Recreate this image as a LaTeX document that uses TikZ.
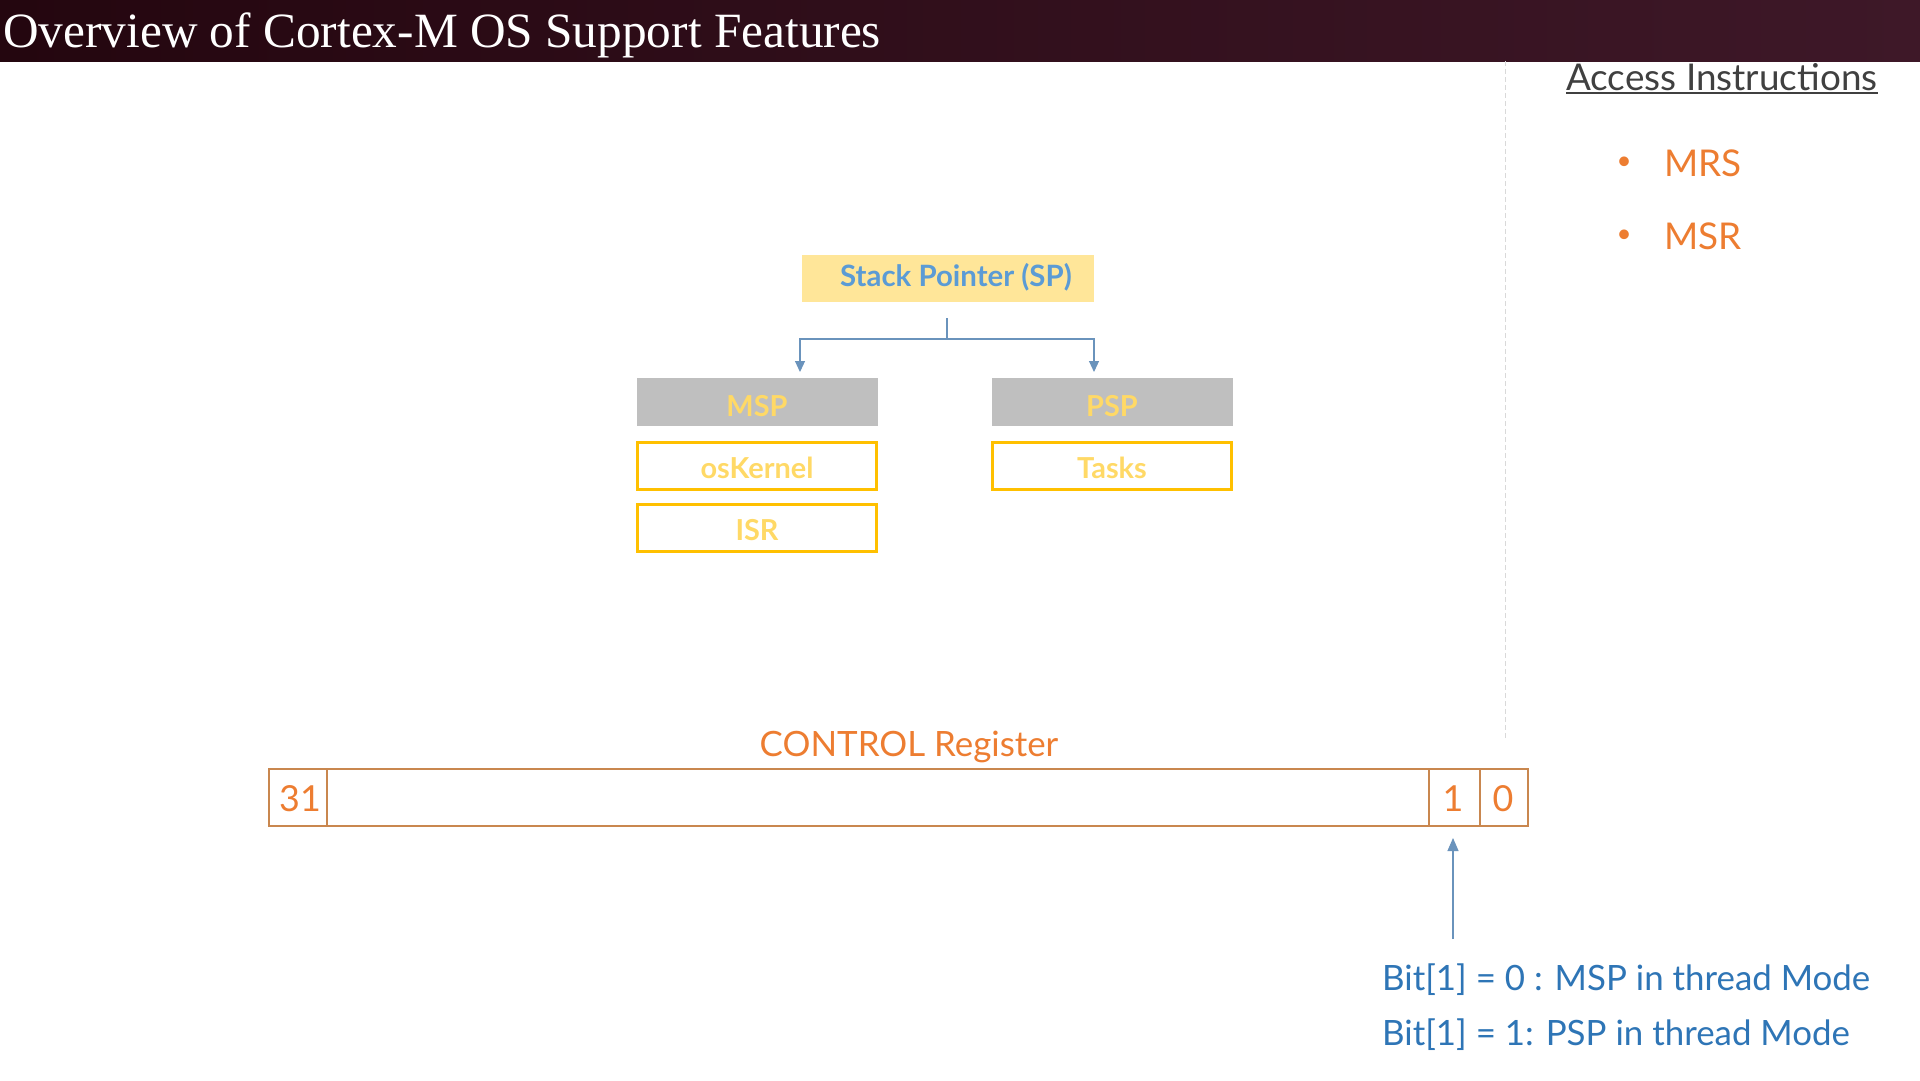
\documentclass[tikz,border=0pt]{standalone}
\usepackage{fontspec}
\setmainfont{Lato}
\newfontfamily\titlefont{Liberation Serif}
\usetikzlibrary{positioning,calc,arrows.meta}
\definecolor{titlebgl}{HTML}{24060F}
\definecolor{titlebgr}{HTML}{3E1828}
\definecolor{spfill}{HTML}{FFE699}
\definecolor{spblue}{HTML}{5B9BD5}
\definecolor{linkblue}{HTML}{6A93BC}
\definecolor{bitblue}{HTML}{2E75B6}
\definecolor{stackgray}{HTML}{BFBFBF}
\definecolor{stackyellow}{HTML}{FFD966}
\definecolor{boxyellow}{HTML}{FFC000}
\definecolor{regorange}{HTML}{C9874F}
\definecolor{txtorange}{HTML}{ED7D31}
\definecolor{headgray}{HTML}{404040}

\begin{document}
\begin{tikzpicture}[x=1bp, y=1bp,
    spbox/.style={fill=spfill, minimum width=292bp, minimum height=47bp, inner sep=0pt},
    sptext/.style={text=spblue, font=\fontsize{29.5}{35}\selectfont\bfseries, inner sep=0pt},
    stackbox/.style={fill=stackgray, text=stackyellow, font=\fontsize{29}{35}\selectfont\bfseries,
        minimum width=241bp, minimum height=48bp, inner sep=0pt, text depth=0pt, text height=28bp},
    userbox/.style={draw=boxyellow, line width=2.2bp, text=stackyellow, font=\fontsize{29}{35}\selectfont\bfseries,
        minimum width=239bp, minimum height=47bp, inner sep=0pt, text depth=0pt, text height=24bp},
    link/.style={draw=linkblue, line width=1.1bp},
    regtext/.style={text=txtorange, font=\fontsize{36}{43}\selectfont},
    bittext/.style={text=bitblue, font=\fontsize{35}{42}\selectfont, anchor=west, inner sep=0pt}]

    \useasboundingbox (0,0) rectangle (1920,-1080);
    \fill[white] (0,0) rectangle (1920,-1080);

    % title bar
    \shade[left color=titlebgl, right color=titlebgr] (0,0) rectangle (1920,-61);
    \node[anchor=base west, inner sep=0pt, text=white, font=\titlefont\fontsize{49.5}{56}\selectfont] (title) at (3,-47) {Overview of Cortex-M OS Support Features};

    % divider
    \draw[black!15, line width=1bp, dash pattern=on 5bp off 3bp] (1505,-61) -- (1505,-741);

    % access instructions
    \node[anchor=base west, inner sep=0pt, text=headgray, font=\fontsize{37}{44}\selectfont] (access) at (1566,-90) {Access Instructions};
    \draw[headgray, line width=2bp] ([yshift=-3bp]access.base west) -- ([yshift=-3bp]access.base east);
    \node[text=txtorange, font=\fontsize{26}{30}\selectfont] (dot1) at (1624,-163) {\textbullet};
    \node[anchor=west, inner sep=0pt, text=txtorange, font=\fontsize{37}{44}\selectfont] (mrs) at (1664,-163) {MRS};
    \node[text=txtorange, font=\fontsize{26}{30}\selectfont] (dot2) at (1624,-236) {\textbullet};
    \node[anchor=west, inner sep=0pt, text=txtorange, font=\fontsize{37}{44}\selectfont] (msr) at (1664,-236) {MSR};

    % stack pointers
    \node[spbox] (sp) at (948,-278) {};
    \node[sptext] (splabel) at (956,-277) {Stack Pointer (SP)};
    \node[stackbox] (msp) at (757,-402) {MSP};
    \node[stackbox] (psp) at (1112,-402) {PSP};
    \node[userbox] (kernel) at (757,-466) {osKernel};
    \node[userbox] (isr) at (757,-528) {ISR};
    \node[userbox] (tasks) at (1112,-466) {Tasks};

    \coordinate (fork) at (947,-339);
    \coordinate (msptip) at (800,-372);
    \coordinate (psptip) at (1094,-372);
    \draw[link] (947,-318) -- (fork);
    \draw[link, -{Triangle[width=10bp, length=11bp]}] (fork) -| (msptip);
    \draw[link, -{Triangle[width=10bp, length=11bp]}] (fork) -| (psptip);

    % control register
    \node[regtext, font=\fontsize{35}{42}\selectfont] (ctrl) at (909,-747) {CONTROL Register};
    \node[draw=regorange, line width=2bp, minimum width=1259bp, minimum height=57bp, inner sep=0pt, anchor=north west] (reg) at (268,-768) {};
    \draw[regorange, line width=1.2bp] ($(reg.north west)+(59,0)$) -- ($(reg.south west)+(59,0)$);
    \draw[regorange, line width=1.2bp] ($(reg.north east)+(-100,0)$) -- ($(reg.south east)+(-100,0)$);
    \draw[regorange, line width=1.2bp] ($(reg.north east)+(-49,0)$) -- ($(reg.south east)+(-49,0)$);
    \node[regtext] (b31) at (300,-799) {31};
    \node[regtext] (b1) at (1453,-799) {1};
    \node[regtext] (b0) at (1503,-799) {0};

    \coordinate (bitfoot) at (1453,-939);
    \coordinate (bithead) at (1453,-838);
    \draw[link, -{Triangle[width=11bp, length=13bp]}] (bitfoot) -- (bithead);

    \node[bittext] (bitzero) at (1382,-980) {Bit[1] = 0 : MSP in thread Mode};
    \node[bittext] (bitone) at (1382,-1035) {Bit[1] = 1: PSP in thread Mode};
\end{tikzpicture}
\end{document}
